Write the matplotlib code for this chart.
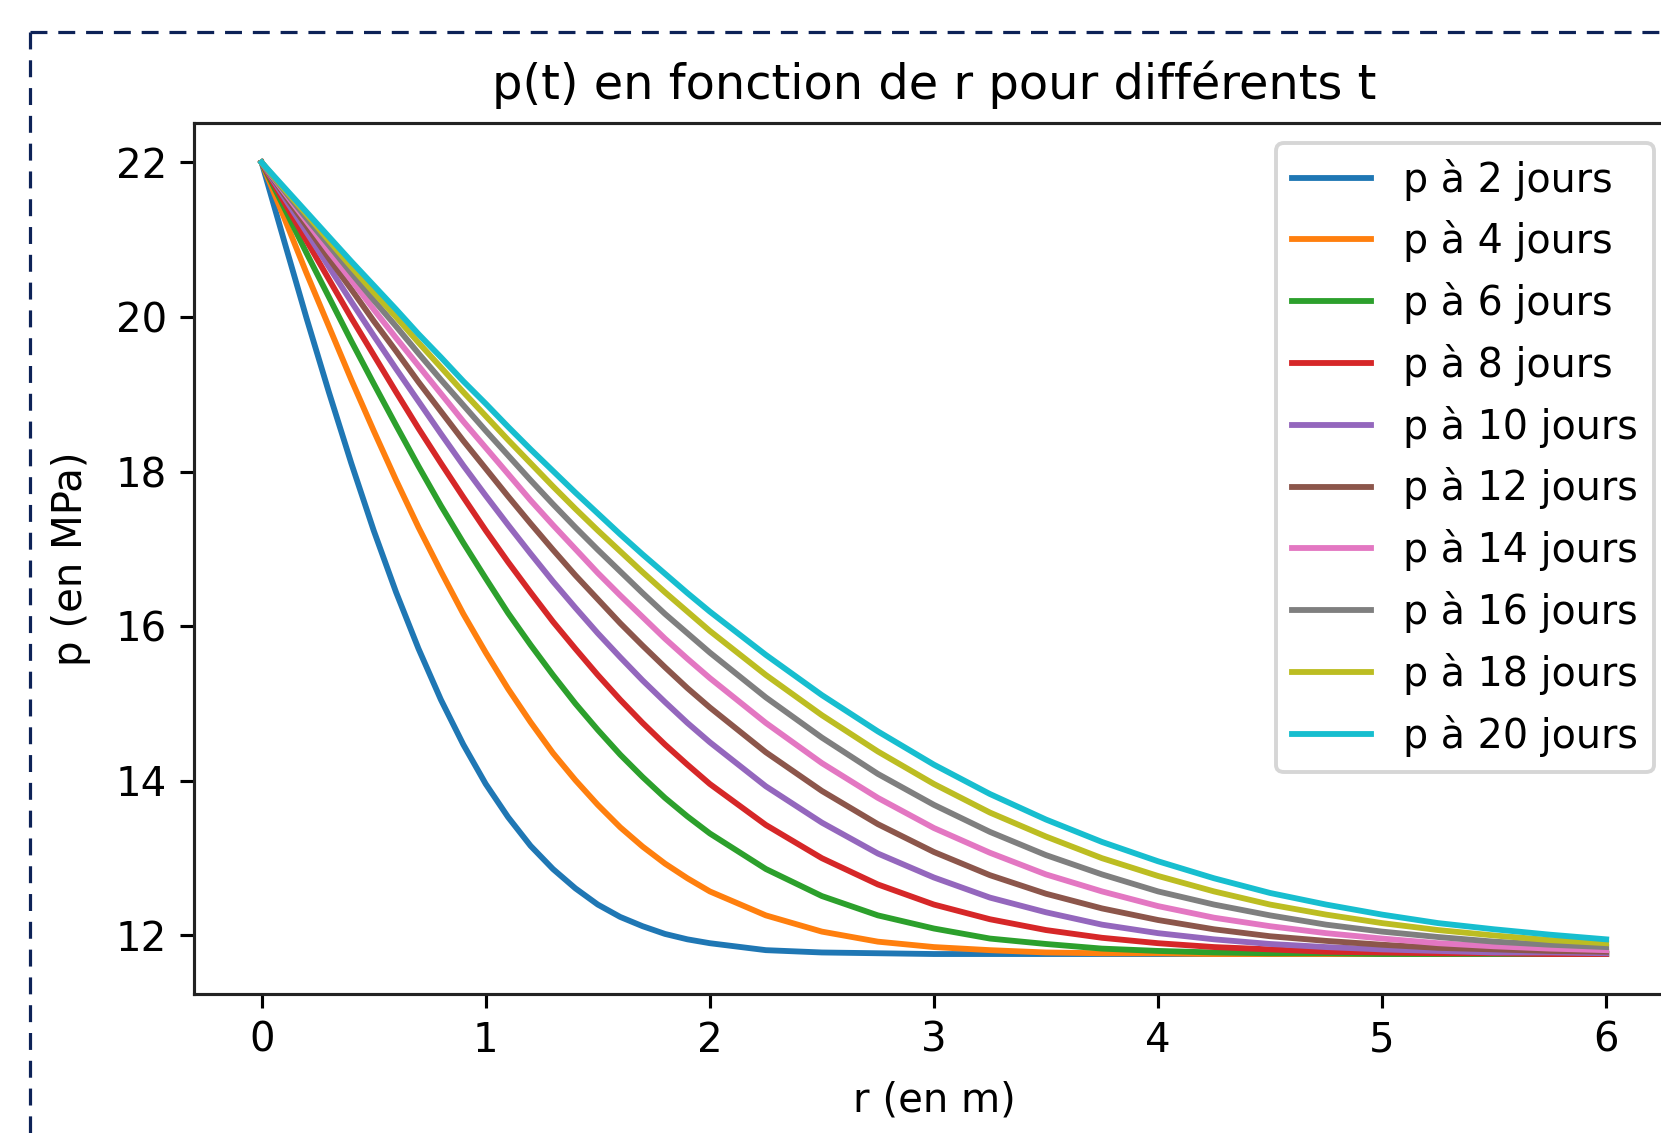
import matplotlib
matplotlib.use("Agg")
import matplotlib.pyplot as plt
from matplotlib.lines import Line2D

# Radius values (m) at which the curves were read
r_vals = [0, 0.1, 0.2, 0.3, 0.4, 0.5, 0.6, 0.7, 0.8, 0.9, 1.0,
          1.1, 1.2, 1.3, 1.4, 1.5, 1.6, 1.7, 1.8, 1.9, 2.0,
          2.25, 2.5, 2.75, 3.0, 3.25, 3.5, 3.75, 4.0,
          4.25, 4.5, 4.75, 5.0, 5.25, 5.5, 5.75, 6.0]

days = [2, 4, 6, 8, 10, 12, 14, 16, 18, 20]

p_2 = [22.00, 20.99, 19.99, 19.03, 18.11, 17.24, 16.44, 15.71, 15.05, 14.47, 13.96,
       13.53, 13.16, 12.86, 12.61, 12.40, 12.24, 12.12, 12.02, 11.95, 11.90,
       11.81, 11.78, 11.77, 11.76, 11.76, 11.76, 11.76, 11.76,
       11.76, 11.76, 11.76, 11.76, 11.76, 11.76, 11.76, 11.76]
p_4 = [22.00, 21.29, 20.57, 19.88, 19.19, 18.53, 17.89, 17.28, 16.71, 16.16, 15.66,
       15.19, 14.76, 14.36, 14.01, 13.69, 13.40, 13.15, 12.93, 12.74, 12.57,
       12.26, 12.05, 11.92, 11.85, 11.81, 11.78, 11.77, 11.77,
       11.76, 11.76, 11.76, 11.76, 11.76, 11.76, 11.76, 11.76]
p_6 = [22.00, 21.42, 20.83, 20.26, 19.69, 19.14, 18.60, 18.07, 17.56, 17.08, 16.62,
       16.17, 15.76, 15.37, 15.00, 14.66, 14.34, 14.05, 13.78, 13.54, 13.32,
       12.86, 12.51, 12.26, 12.09, 11.96, 11.89, 11.83, 11.80,
       11.78, 11.77, 11.77, 11.76, 11.76, 11.76, 11.76, 11.76]
p_8 = [22.00, 21.49, 20.99, 20.49, 19.99, 19.51, 19.03, 18.56, 18.11, 17.67, 17.24,
       16.83, 16.44, 16.06, 15.71, 15.37, 15.05, 14.75, 14.47, 14.21, 13.96,
       13.43, 13.00, 12.66, 12.40, 12.21, 12.07, 11.97, 11.90,
       11.85, 11.82, 11.79, 11.78, 11.77, 11.77, 11.76, 11.76]
p_10 = [22.00, 21.55, 21.10, 20.65, 20.20, 19.76, 19.33, 18.91, 18.49, 18.08, 17.69,
        17.31, 16.94, 16.58, 16.24, 15.91, 15.60, 15.30, 15.02, 14.75, 14.50,
        13.93, 13.46, 13.06, 12.75, 12.49, 12.30, 12.14, 12.03,
        11.95, 11.89, 11.85, 11.82, 11.80, 11.78, 11.78, 11.77]
p_12 = [22.00, 21.59, 21.18, 20.76, 20.36, 19.95, 19.56, 19.16, 18.78, 18.40, 18.04,
        17.68, 17.33, 16.99, 16.66, 16.35, 16.04, 15.75, 15.47, 15.20, 14.95,
        14.37, 13.87, 13.44, 13.08, 12.78, 12.54, 12.35, 12.20,
        12.08, 11.99, 11.93, 11.88, 11.84, 11.82, 11.80, 11.79]
p_14 = [22.00, 21.62, 21.24, 20.85, 20.48, 20.10, 19.73, 19.37, 19.01, 18.65, 18.31,
        17.97, 17.63, 17.31, 17.00, 16.69, 16.40, 16.12, 15.84, 15.58, 15.33,
        14.75, 14.23, 13.78, 13.39, 13.07, 12.79, 12.57, 12.38,
        12.23, 12.12, 12.03, 11.96, 11.90, 11.86, 11.83, 11.81]
p_16 = [22.00, 21.64, 21.28, 20.93, 20.57, 20.22, 19.88, 19.53, 19.19, 18.86, 18.53,
        18.21, 17.89, 17.58, 17.28, 16.99, 16.71, 16.43, 16.16, 15.91, 15.66,
        15.08, 14.56, 14.09, 13.69, 13.34, 13.04, 12.79, 12.57,
        12.40, 12.26, 12.14, 12.05, 11.98, 11.92, 11.88, 11.85]
p_18 = [22.00, 21.66, 21.33, 20.99, 20.65, 20.32, 20.00, 19.67, 19.35, 19.03, 18.72,
        18.41, 18.11, 17.81, 17.52, 17.24, 16.97, 16.70, 16.44, 16.19, 15.94,
        15.37, 14.85, 14.38, 13.96, 13.59, 13.28, 13.00, 12.77,
        12.57, 12.40, 12.27, 12.16, 12.07, 12.00, 11.94, 11.90]
p_20 = [22.00, 21.68, 21.36, 21.04, 20.72, 20.41, 20.10, 19.78, 19.48, 19.17, 18.88,
        18.58, 18.29, 18.01, 17.73, 17.46, 17.19, 16.93, 16.68, 16.43, 16.19,
        15.63, 15.11, 14.64, 14.21, 13.83, 13.50, 13.21, 12.96,
        12.74, 12.55, 12.40, 12.27, 12.16, 12.08, 12.01, 11.95]

series = [p_2, p_4, p_6, p_8, p_10, p_12, p_14, p_16, p_18, p_20]
labels = [f"p à {d} jours" for d in days]

title = "p(t) en fonction de r pour différents t"
xlabel = "r (en m)"
ylabel = "p (en MPa)"

W, H = 1661, 1133
fig = plt.figure(figsize=(W / 100, H / 100), dpi=100)
fig.patch.set_facecolor("white")

FS = 29
ax = fig.add_axes([194.4 / W, 1 - 993.6 / H, 1479 / W, (993.6 - 122.9) / H])

for vals, lab in zip(series, labels):
    ax.plot(r_vals, vals, lw=4.2, label=lab)

ax.set_title(title, fontsize=34.5, pad=17)
ax.set_xlabel(xlabel, fontsize=FS, labelpad=14)
ax.set_ylabel(ylabel, fontsize=FS, labelpad=18)
ax.set_yticks([12, 14, 16, 18, 20, 22])
ax.set_xticks([0, 1, 2, 3, 4, 5, 6])
ax.tick_params(labelsize=FS, length=9.8, width=2.25, pad=9.8)
for s in ax.spines.values():
    s.set_linewidth(2.25)
    s.set_color("#222222")

leg = ax.legend(loc="upper right", fontsize=28.5, borderaxespad=0.5)
leg.get_frame().set_linewidth(2.8)

# dashed frame of the document (left and top edges visible)
x0 = 29.9 / W
y0 = 1 - 32 / H
border_kw = dict(transform=fig.transFigure, color="#0d2257", lw=2.3,
                 linestyle=(0, (5.3, 3.4)))
fig.add_artist(Line2D([x0, x0], [y0, -0.05], **border_kw))
fig.add_artist(Line2D([x0, 1.05], [y0, y0], **border_kw))

fig.savefig("out.png", dpi=100)
